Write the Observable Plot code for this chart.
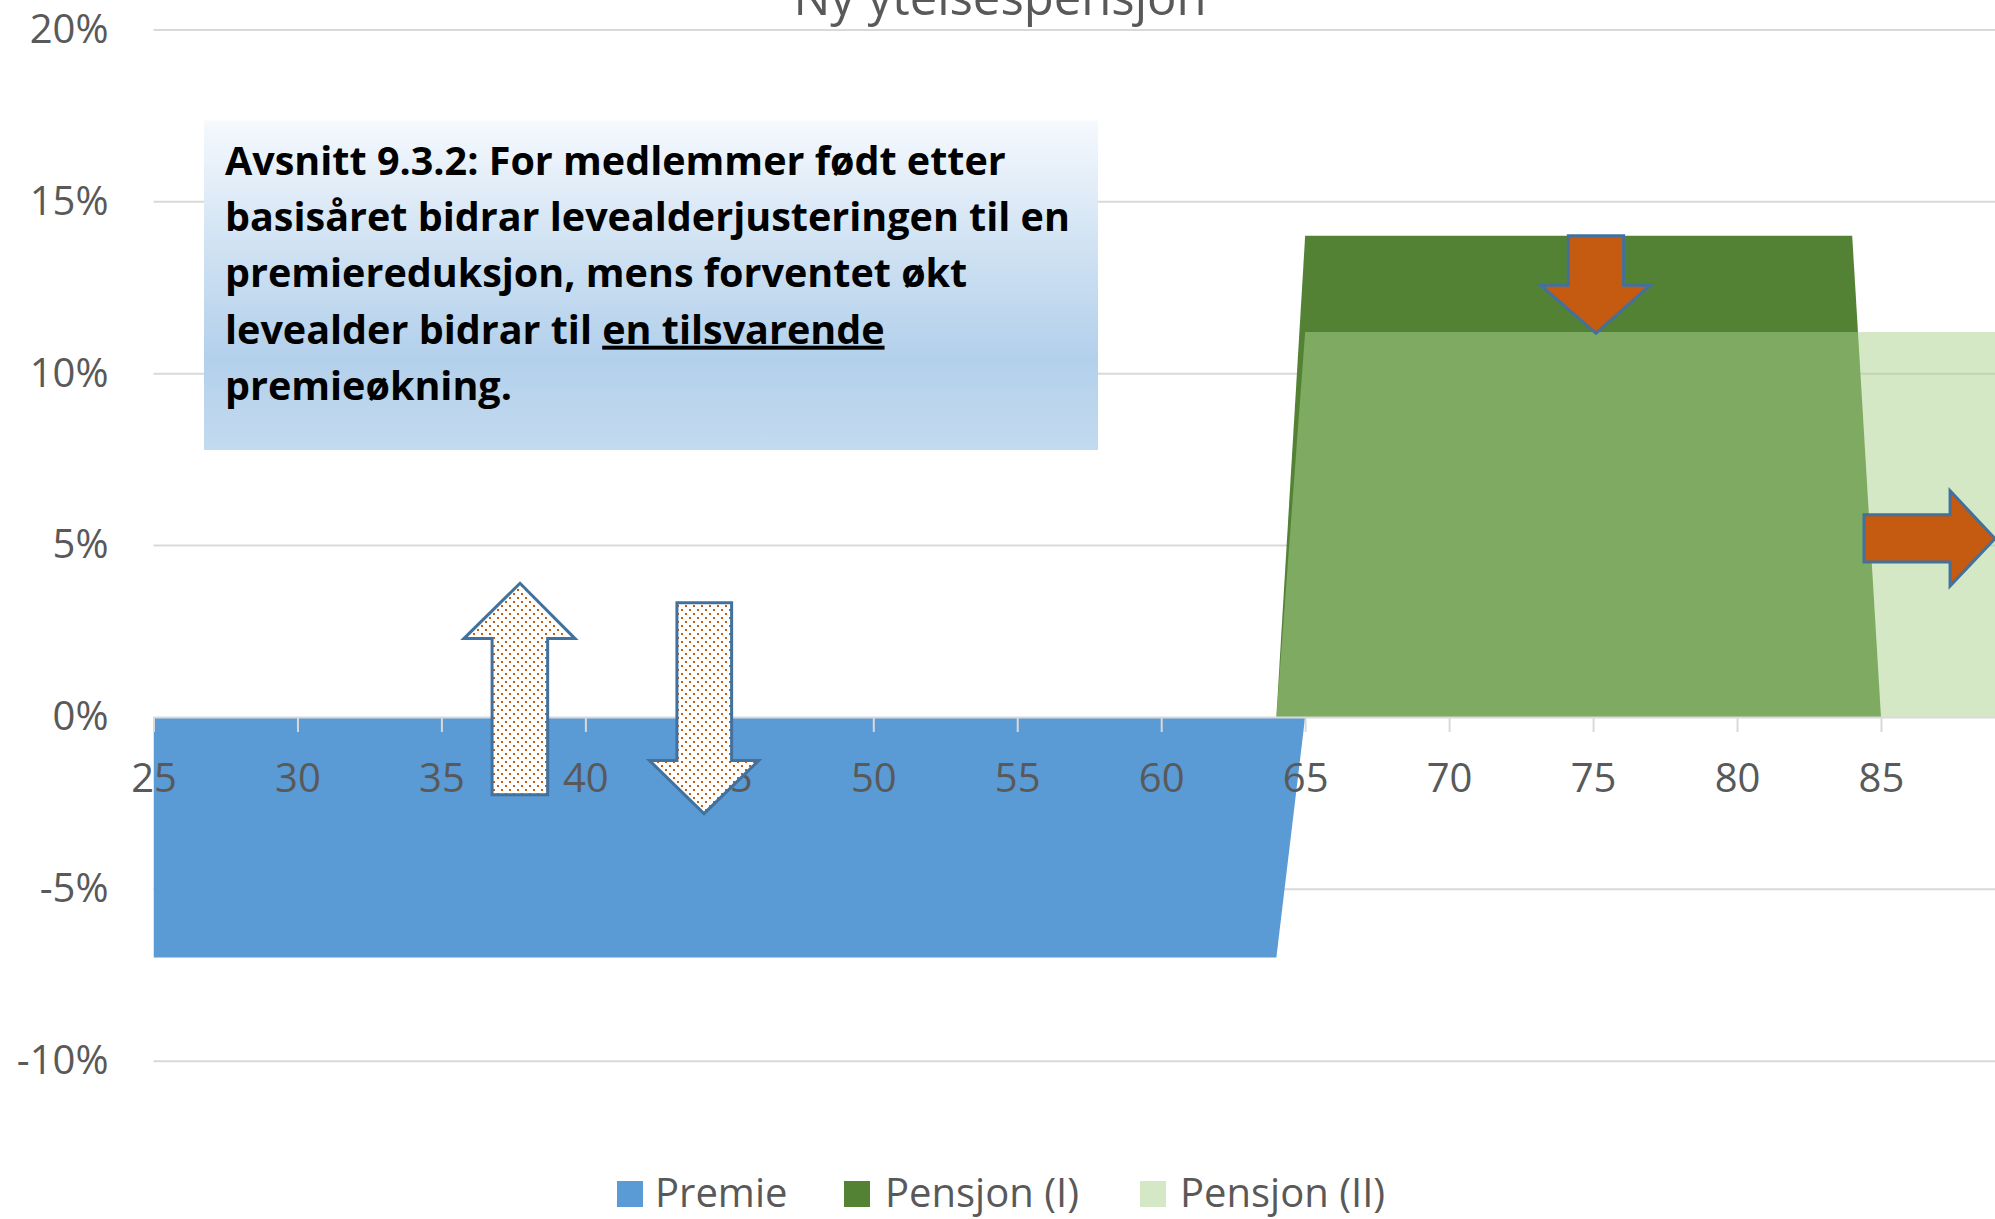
<!DOCTYPE html>
<html>
<head>
<meta charset="utf-8">
<script src="https://cdn.jsdelivr.net/npm/d3@7"></script>
<script src="https://cdn.jsdelivr.net/npm/@observablehq/plot@0.6"></script>
<style>
  html, body { margin: 0; padding: 0; background: #fff; overflow: hidden; }
  #wrap { position: relative; width: 1995px; height: 1219px; overflow: hidden; }
  #wrap svg { display: block; max-width: none; }
  #overlay { position: absolute; left: 0; top: 0; }
</style>
</head>
<body>
<div id="wrap"></div>
<script>
// ---------- data ----------
const chartTitle = "Ny ytelsespensjon";
const seriesNames = ["Premie", "Pensjon (I)", "Pensjon (II)"];
const seriesColors = ["#5B9BD5", "#548235", "#A9D18E"];

const premieAges = [25, 64, 65];
const premieValues = [-7, -7, 0];

const pensjon1Ages = [64, 65, 84, 85];
const pensjon1Values = [0, 14, 14, 0];

const pensjon2Ages = [64, 65, 90];
const pensjon2Values = [0, 11.2, 11.2];

const xTicks = [25, 30, 35, 40, 45, 50, 55, 60, 65, 70, 75, 80, 85];
const yTicks = [-10, -5, 0, 5, 10, 15, 20];

const noteLines = [
  [{t: "Avsnitt 9.3.2: For medlemmer født etter"}],
  [{t: "basisåret bidrar levealderjusteringen til en"}],
  [{t: "premiereduksjon, mens forventet økt"}],
  [{t: "levealder bidrar til "}, {t: "en tilsvarende", u: true}],
  [{t: "premieøkning."}]
];

// annotation arrows, in chart units (age, percent)
const arrowDirections = ["up", "down", "down", "right"];
const arrowDotted = [true, true, false, false];
// along-axis: [shaft start, head base, tip]
const arrowAlong = [[-2.26, 2.28, 3.89], [3.32, -1.27, -2.81], [14.0, 12.56, 11.16], [84.41, 87.40, 88.96]];
// across-axis: [shaft a, shaft b, head a, head b, tip]
const arrowAcross = [
  [36.76, 38.69, 35.78, 39.64, 37.73],
  [43.18, 45.08, 42.23, 46.02, 44.12],
  [74.14, 76.06, 73.18, 76.98, 75.10],
  [5.88, 4.51, 6.58, 3.81, 5.19]
];

// ---------- build ----------
const toRows = (ages, vals) => ages.map((a, i) => ({age: a, value: vals[i]}));
const premie = toRows(premieAges, premieValues);
const pensjon1 = toRows(pensjon1Ages, pensjon1Values);
const pensjon2 = toRows(pensjon2Ages, pensjon2Values);

const W = 1995, H = 1219;
const mL = 153.5, mR = 0, mT = 29.5, mB = 158.3;
const xDomain = [25, 88.96];
const yDomain = [-10, 20];
const FONT = "'Open Sans', 'Noto Sans', sans-serif";
const TEXT = "#595959";

function arrowsMark(index, scales, values, dimensions) {
  const sx = (scales && typeof scales.x === "function") ? scales.x
    : d3.scaleLinear(xDomain, [mL, W - mR]);
  const sy = (scales && typeof scales.y === "function") ? scales.y
    : d3.scaleLinear(yDomain, [H - mB, mT]);
  const g = d3.create("svg:g");
  const defs = g.append("defs");
  const pat = defs.append("pattern").attr("id", "dotfill")
    .attr("patternUnits", "userSpaceOnUse").attr("width", 8).attr("height", 8);
  pat.append("rect").attr("width", 8).attr("height", 8).attr("fill", "#fff");
  pat.append("rect").attr("x", 1).attr("y", 1).attr("width", 2).attr("height", 2).attr("fill", "#C55A11");
  pat.append("rect").attr("x", 5).attr("y", 5).attr("width", 2).attr("height", 2).attr("fill", "#C55A11");
  arrowDirections.forEach((dir, i) => {
    const [s, b, t] = arrowAlong[i];
    const [a1, a2, h1, h2, c] = arrowAcross[i];
    let pts;
    if (dir === "right") {
      pts = [[s, a1], [b, a1], [b, h1], [t, c], [b, h2], [b, a2], [s, a2]];
    } else {
      pts = [[a1, s], [a1, b], [h1, b], [c, t], [h2, b], [a2, b], [a2, s]];
    }
    const px = pts.map(([X, Y]) => [sx(X), sy(Y)]);
    g.append("path")
      .attr("d", "M" + px.map(p => p.join(",")).join("L") + "Z")
      .attr("fill", arrowDotted[i] ? "url(#dotfill)" : "#C55A11")
      .attr("stroke", "#41719C")
      .attr("stroke-width", 3)
      .attr("stroke-linejoin", "miter");
  });
  return g.node();
}

const chart = Plot.plot({
  width: W, height: H,
  marginLeft: mL, marginRight: mR, marginTop: mT, marginBottom: mB,
  style: {fontFamily: FONT, fontSize: "40px", color: TEXT, background: "transparent"},
  x: {domain: xDomain, axis: null, label: null},
  y: {domain: yDomain, axis: null, label: null},
  marks: [
    Plot.gridY(yTicks.filter(v => v !== 0), {stroke: "#D9D9D9", strokeOpacity: 1, strokeWidth: 2}),
    Plot.areaY(premie, {x: "age", y: "value", fill: seriesColors[0], clip: true}),
    Plot.areaY(pensjon1, {x: "age", y: "value", fill: seriesColors[1], clip: true}),
    Plot.areaY(pensjon2, {x: "age", y: "value", fill: seriesColors[2], fillOpacity: 0.5, clip: true}),
    Plot.ruleY([0], {stroke: "#D9D9D9", strokeWidth: 2}),
    Plot.ruleX(xTicks, {x: d => d, y1: 0, y2: 0, insetBottom: -15, stroke: "#D9D9D9", strokeWidth: 2}),
    Plot.text(xTicks, {x: d => d, y: 0, text: d => String(d), dy: 46, lineAnchor: "top",
      fill: TEXT, fontSize: 40, fontFamily: FONT}),
    Plot.axisY(yTicks, {tickSize: 0, tickPadding: 45.5, tickFormat: d => `${d}%`,
      fontSize: 40, fill: TEXT, label: null}),
    arrowsMark
  ]
});

const wrap = document.getElementById("wrap");
wrap.appendChild(chart);

// ---------- overlay: title, note box, legend ----------
const ov = d3.select(wrap).append("svg").attr("id", "overlay")
  .attr("width", W).attr("height", H).attr("viewBox", `0 0 ${W} ${H}`)
  .style("font-family", FONT);

ov.append("text").attr("x", 1000).attr("y", 15).attr("text-anchor", "middle")
  .attr("font-size", 49).attr("fill", TEXT).text(chartTitle);

const grad = ov.append("defs").append("linearGradient").attr("id", "boxgrad")
  .attr("x1", 0).attr("y1", 0).attr("x2", 0).attr("y2", 1);
[[0, "#F6F9FD"], [0.35, "#D3E4F4"], [0.72, "#B3D0EB"], [1, "#C3DAEF"]].forEach(([o, c]) =>
  grad.append("stop").attr("offset", o).attr("stop-color", c));

ov.append("rect").attr("x", 204).attr("y", 120.5).attr("width", 894).attr("height", 329.5)
  .attr("fill", "url(#boxgrad)");

noteLines.forEach((parts, i) => {
  const t = ov.append("text").attr("x", 225).attr("y", 174.5 + i * 56.4)
    .attr("font-size", 39.5).attr("font-weight", "bold").attr("fill", "#000");
  parts.forEach(p => {
    const ts = t.append("tspan").text(p.t);
    if (p.u) ts.style("text-decoration", "underline");
  });
});

const legendSwatchX = [617, 844, 1140];
const legendTextX = [655, 885, 1180];
seriesNames.forEach((name, i) => {
  ov.append("rect").attr("x", legendSwatchX[i]).attr("y", 1181).attr("width", 26).attr("height", 26)
    .attr("fill", seriesColors[i]).attr("fill-opacity", i === 2 ? 0.5 : 1);
  ov.append("text").attr("x", legendTextX[i]).attr("y", 1207).attr("font-size", 40)
    .attr("fill", TEXT).text(name);
});
</script>
</body>
</html>
